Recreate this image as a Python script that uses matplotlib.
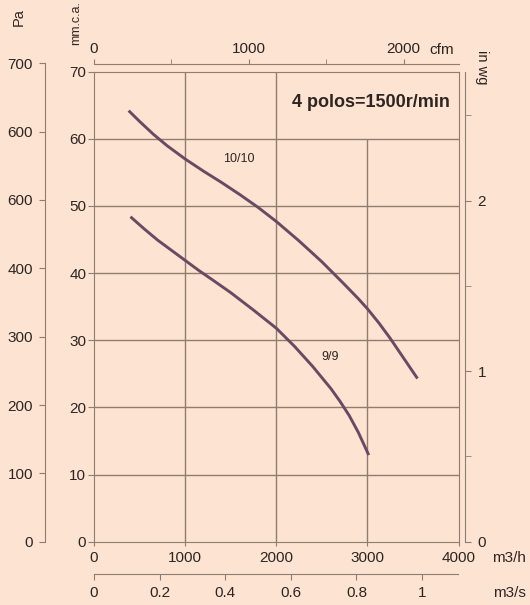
import matplotlib
matplotlib.use("Agg")
import matplotlib.pyplot as plt

caudal_1010 = [380, 500, 650, 800, 1000, 1200, 1400, 1600, 1800, 2000, 2250, 2500,
               2750, 2900, 3000, 3125, 3250, 3400, 3550]
presion_1010 = [64.2, 62.6, 60.7, 59.0, 57.0, 55.2, 53.5, 51.7, 49.8, 47.7, 44.8, 41.7,
                38.3, 36.2, 34.7, 32.6, 30.3, 27.3, 24.3]
caudal_99 = [400, 550, 700, 850, 1000, 1150, 1300, 1500, 1750, 2000, 2200, 2400,
             2600, 2700, 2800, 2900, 3015]
presion_99 = [48.4, 46.6, 44.9, 43.4, 41.9, 40.4, 39.0, 37.1, 34.5, 31.8, 29.1, 26.1,
              22.8, 20.9, 18.8, 16.3, 12.9]

ticks_mmca = [0, 10, 20, 30, 40, 50, 60, 70]
ticks_pa = [0, 100, 200, 300, 400, 500, 600, 700]
etiquetas_pa = ["0", "100", "200", "300", "400", "600", "600", "700"]
ticks_m3h = [0, 1000, 2000, 3000, 4000]
ticks_m3s = [0, 0.2, 0.4, 0.6, 0.8, 1]
etiquetas_m3s = ["0", "0.2", "0.4", "0.6", "0.8", "1"]
ticks_cfm = [0, 1000, 2000]
ticks_cfm_menor = [500, 1500]
ticks_inwg = [0, 1, 2]
ticks_inwg_menor = [0.5, 1.5, 2.5]

FONDO = "#fde3d1"
TEXTO = "#2e2523"
REJILLA = "#8f7d74"
CURVA = "#6a4a62"

plt.rcParams["font.family"] = ["Liberation Sans", "DejaVu Sans"]
plt.rcParams["font.size"] = 11

W, H = 530, 605
fig = plt.figure(figsize=(W / 100, H / 100), dpi=100, facecolor=FONDO)

x0, x1 = 94, 458.5
y_top, y_bot = 71.7, 541.7
ax = fig.add_axes([x0 / W, 1 - y_bot / H, (x1 - x0) / W, (y_bot - y_top) / H])
ax.set_facecolor(FONDO)
ax.set_xlim(0, 4000)
ax.set_ylim(0, 70)

# rejilla
ax.hlines([10, 20, 30, 40, 50, 60], 0, 4000, color=REJILLA, lw=1)
ax.vlines([1000, 2000], 0, 70, color=REJILLA, lw=1)
ax.vlines([3000], 0, 60, color=REJILLA, lw=1)

ax.plot(caudal_1010, presion_1010, color=CURVA, lw=2.1, solid_capstyle="butt",
        solid_joinstyle="round")
ax.plot(caudal_99, presion_99, color=CURVA, lw=2.1, solid_capstyle="butt",
        solid_joinstyle="round")

ax.text(1584, 57.0, "10/10", fontsize=9, color=TEXTO, ha="center", va="center")
ax.text(2591, 27.5, "9/9", fontsize=9, color=TEXTO, ha="center", va="center")
ax.text(3908, 65.4, "4 polos=1500r/min", fontsize=13, fontweight="bold",
        color=TEXTO, ha="right", va="center")

for s in ax.spines.values():
    s.set_color(REJILLA)
ax.set_yticks(ticks_mmca)
ax.set_xticks(ticks_m3h)
ax.tick_params(axis="y", direction="out", length=4, pad=1.5, color=REJILLA,
               labelcolor=TEXTO, labelsize=11)
ax.tick_params(axis="x", direction="out", length=3, pad=4, color=REJILLA,
               labelcolor=TEXTO, labelsize=11)

# eje Pa
pa_bot, pa_top = 541.7, 63.3
ax_pa = fig.add_axes([45 / W, 1 - pa_bot / H, 0.001, (pa_bot - pa_top) / H])
ax_pa.patch.set_visible(False)
ax_pa.set_ylim(0, 700)
for k in ["top", "right", "bottom"]:
    ax_pa.spines[k].set_visible(False)
ax_pa.spines["left"].set_color(REJILLA)
ax_pa.set_xticks([])
ax_pa.set_yticks(ticks_pa)
ax_pa.set_yticklabels(etiquetas_pa)
ax_pa.tick_params(axis="y", direction="out", length=4.3, pad=4.3, color=REJILLA,
                  labelcolor=TEXTO, labelsize=11)

# eje in wg
ax_in = ax.twinx()
ax_in.set_ylim(0, 70 / 25.4)
for k in ["top", "left", "bottom"]:
    ax_in.spines[k].set_visible(False)
ax_in.spines["right"].set_position(("outward", 4.7))
ax_in.spines["right"].set_color(REJILLA)
ax_in.set_yticks(ticks_inwg)
ax_in.set_yticks(ticks_inwg_menor, minor=True)
ax_in.tick_params(axis="y", which="both", direction="out", length=4, pad=5,
                  color=REJILLA, labelcolor=TEXTO, labelsize=11)

# eje cfm
ax_cfm = ax.twiny()
ax_cfm.set_xlim(0, 4000 / 1.699)
for k in ["bottom", "left", "right"]:
    ax_cfm.spines[k].set_visible(False)
ax_cfm.spines["top"].set_position(("outward", 5.8))
ax_cfm.spines["top"].set_color(REJILLA)
ax_cfm.set_xticks(ticks_cfm)
ax_cfm.set_xticks(ticks_cfm_menor, minor=True)
ax_cfm.tick_params(axis="x", which="both", direction="out", length=3.5, pad=2,
                   color=REJILLA, labelcolor=TEXTO, labelsize=11)

# eje m3/s
ax_s = ax.twiny()
ax_s.set_xlim(0, 4000 / 3600)
ax_s.xaxis.set_ticks_position("bottom")
ax_s.xaxis.set_label_position("bottom")
for k in ["top", "left", "right"]:
    ax_s.spines[k].set_visible(False)
ax_s.spines["bottom"].set_position(("outward", 23.3))
ax_s.spines["bottom"].set_color(REJILLA)
ax_s.set_xticks(ticks_m3s)
ax_s.set_xticklabels(etiquetas_m3s)
ax_s.tick_params(axis="x", direction="out", length=4, pad=4.5, color=REJILLA,
                 labelcolor=TEXTO, labelsize=11)

def texto_px(x, y, s, **kw):
    fig.text(x / W, 1 - y / H, s, color=TEXTO, ha="center", va="center", **kw)

texto_px(19, 17, "Pa", rotation=90, fontsize=10.5)
texto_px(76, 23, "mm.c.a.", rotation=90, fontsize=9)
texto_px(482, 67, "in wg", rotation=-90, fontsize=10.5)
texto_px(442, 50, "cfm", fontsize=11)
texto_px(509, 558, "m3/h", fontsize=11)
texto_px(509, 593, "m3/s", fontsize=11)

fig.savefig("out.png", dpi=100, facecolor=FONDO)
